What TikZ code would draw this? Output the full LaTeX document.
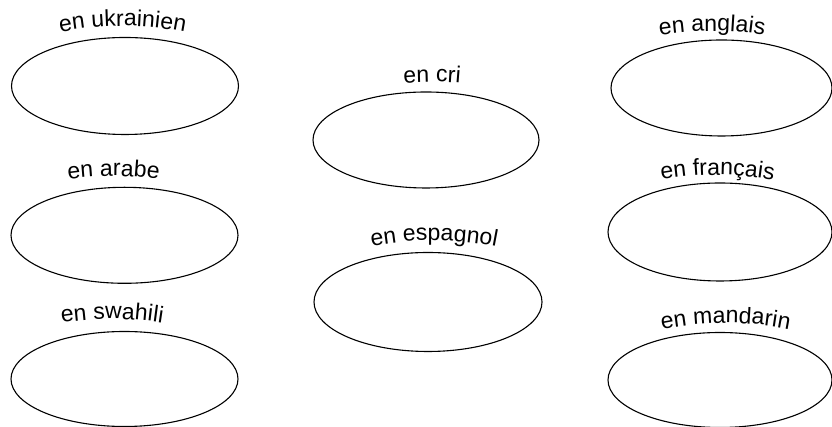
\documentclass[tikz,border=0pt]{standalone}
\usepackage{fontspec}
\newfontfamily\labfont{Liberation Sans}
\usetikzlibrary{shapes.geometric,decorations.text}
\tikzset{
  ell/.style={draw=black, line width=1.1pt, ellipse, inner sep=0pt, outer sep=0pt, fill=none},
}
% #1 text centre x (px), #2 baseline y (px from top), #3 text
\newcommand\arclabel[3]{%
  \path[decorate, decoration={text along path, text align=center,
      text={|\labfont\fontsize{23}{27}\selectfont|#3}}]
    (#1-109.4, 427-#2-19.3) arc[start angle=110, end angle=70, radius=320pt];}
\begin{document}
\begin{tikzpicture}[x=1pt, y=1pt]
\useasboundingbox (0,0) rectangle (832,427);
% left column
\node[ell, minimum width=227pt, minimum height=97pt] (uk) at (125, 427-86) {};
\node[ell, minimum width=227pt, minimum height=96pt] (ar) at (124.5, 427-235.3) {};
\node[ell, minimum width=227pt, minimum height=95pt] (sw) at (124.5, 427-379) {};
% middle column
\node[ell, minimum width=226pt, minimum height=96pt] (cr) at (426, 427-140) {};
\node[ell, minimum width=228pt, minimum height=99pt] (es) at (428, 427-302) {};
% right column
\node[ell, minimum width=221pt, minimum height=96pt] (an) at (721.5, 427-88) {};
\node[ell, minimum width=224pt, minimum height=98pt] (fr) at (720, 427-232) {};
\node[ell, minimum width=224pt, minimum height=95pt] (ma) at (720, 427-380) {};
% labels
\arclabel{122.5}{26}{en ukrainien}
\arclabel{113.5}{176}{en arabe}
\arclabel{112}{319}{en swahili}
\arclabel{432}{82}{en cri}
\arclabel{434}{240.5}{en espagnol}
\arclabel{712}{31}{en anglais}
\arclabel{717.5}{175}{en français}
\arclabel{725.5}{323}{en mandarin}
\end{tikzpicture}
\end{document}
